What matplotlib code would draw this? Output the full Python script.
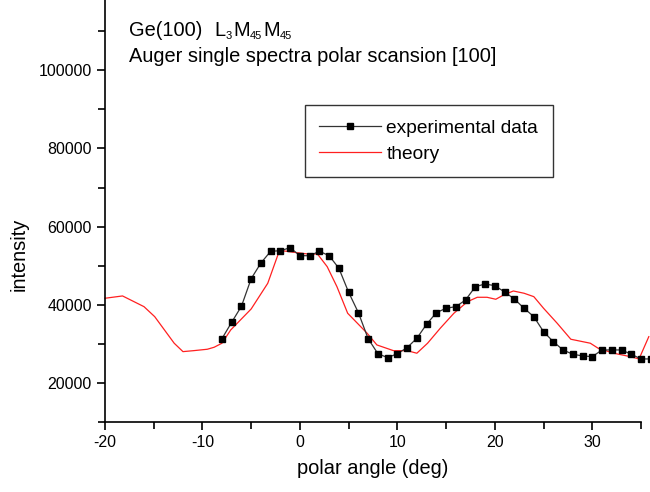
import matplotlib
matplotlib.use("Agg")
import matplotlib.pyplot as plt
from matplotlib.ticker import MultipleLocator

plt.rcParams['font.family'] = ['Liberation Sans', 'DejaVu Sans']
plt.rcParams['axes.unicode_minus'] = False

exp_angle = [-8, -7, -6, -5, -4, -3, -2, -1, 0, 1, 2, 3, 4, 5, 6, 7, 8, 9, 10, 11,
             12, 13, 14, 15, 16, 17, 18, 19, 20, 21, 22, 23, 24, 25, 26, 27, 28, 29,
             30, 31, 32, 33, 34, 35, 36]
exp_intensity = [31330, 35530, 39620, 46680, 50700, 53690, 53840, 54610, 52560, 52560,
                 53690, 52560, 49340, 43200, 37980, 31330, 27490, 26470, 27490, 29030,
                 31430, 35020, 37980, 39110, 39520, 41230, 44630, 45320, 44890, 43280,
                 41490, 39110, 36960, 33120, 30560, 28440, 27340, 26910, 26730, 28440,
                 28440, 28440, 27340, 26140, 26140]

th_angle = [-20, -18.2, -16.0, -14.9, -13.9, -12.9, -12.0, -10.9, -9.5, -8.8, -8.0,
            -7.1, -6.1, -5.0, -3.3, -2.2, -1.6, -0.3, 0.8, 1.8, 2.8, 3.8, 4.9, 5.9,
            6.9, 7.9, 9.6, 11.0, 12.0, 13.1, 14.4, 15.8, 17.2, 18.2, 19.2, 20.1,
            20.9, 21.9, 23.0, 24.0, 25.0, 26.4, 27.8, 29.8, 30.6, 32.2, 33.9, 34.8, 35.8]
th_intensity = [41670, 42260, 39520, 36960, 33560, 30160, 28010, 28260, 28620, 29130,
                30160, 33560, 36120, 38930, 45500, 53180, 53770, 53330, 53000, 53000,
                49750, 44630, 37830, 35270, 32710, 29720, 28260, 28260, 27600, 30160,
                33990, 37830, 40800, 41920, 41920, 41410, 42510, 43530, 42950, 42080,
                39110, 35270, 31180, 30160, 28880, 27600, 26730, 26140, 31840]

fig = plt.figure(figsize=(6.5, 4.92), dpi=100)
ax = fig.add_axes([105/650, 70/492, (641-105)/650, 422/492])

ax.plot(th_angle, th_intensity, color='#ff2020', lw=0.9, label='theory', clip_on=False, zorder=2)
ax.plot(exp_angle, exp_intensity, color='#333333', lw=0.9, marker='s', markersize=4.5,
        markerfacecolor='black', markeredgecolor='black', label='experimental data',
        clip_on=False, zorder=3)

ax.set_xlim(-20, 35)
ax.set_ylim(10000, 118000)
ax.xaxis.set_major_locator(MultipleLocator(10))
ax.xaxis.set_minor_locator(MultipleLocator(5))
ax.yaxis.set_major_locator(MultipleLocator(20000))
ax.yaxis.set_minor_locator(MultipleLocator(10000))
ax.set_yticks([20000, 40000, 60000, 80000, 100000])
ax.spines['top'].set_visible(False)
ax.spines['right'].set_visible(False)
for s in ('left', 'bottom'):
    ax.spines[s].set_linewidth(1.2)
ax.tick_params(which='major', direction='out', length=6, width=1.2, labelsize=11.5, colors='black')
ax.tick_params(which='minor', direction='out', length=5, width=1.2)

ax.set_xlabel('polar angle (deg)', fontsize=14.4)
ax.xaxis.set_label_coords(0.5, -(468 - 422) / 422, transform=ax.transAxes)
ax.xaxis.label.set_va('center')
ax.set_ylabel('intensity', fontsize=14.4)
ax.yaxis.set_label_coords((19 - 105) / 536, (422 - 254) / 422, transform=ax.transAxes)
ax.yaxis.label.set_va('center')

# title line 1: Ge(100)   L3M45M45 with small, low subscripts
y1 = 1 - 30/492
parts = [('Ge(100)', 129, 14.4, 0), ('L', 214, 14.4, 0), ('3', 226, 8, -6),
         ('M', 233, 14.4, 0), ('45', 250, 8, -6), ('M', 263, 14.4, 0), ('45', 280, 8, -6)]
for txt, px, fs, dy in parts:
    fig.text(px/650, y1 + dy/492, txt, fontsize=fs, va='center')
fig.text(129/650, 1 - 57/492, 'Auger single spectra polar scansion [100]', fontsize=14.4, va='center')

handles, labels = ax.get_legend_handles_labels()
leg = ax.legend(handles[::-1], labels[::-1], loc='upper left', bbox_to_anchor=(305/650, 1 - 105/492),
                bbox_transform=fig.transFigure, fontsize=13.8, frameon=True, fancybox=False,
                edgecolor='black', borderpad=0.75, handlelength=3.2, handletextpad=0.3,
                labelspacing=0.45, borderaxespad=0)
leg.get_frame().set_linewidth(1.0)

fig.savefig('out.png', dpi=100)
